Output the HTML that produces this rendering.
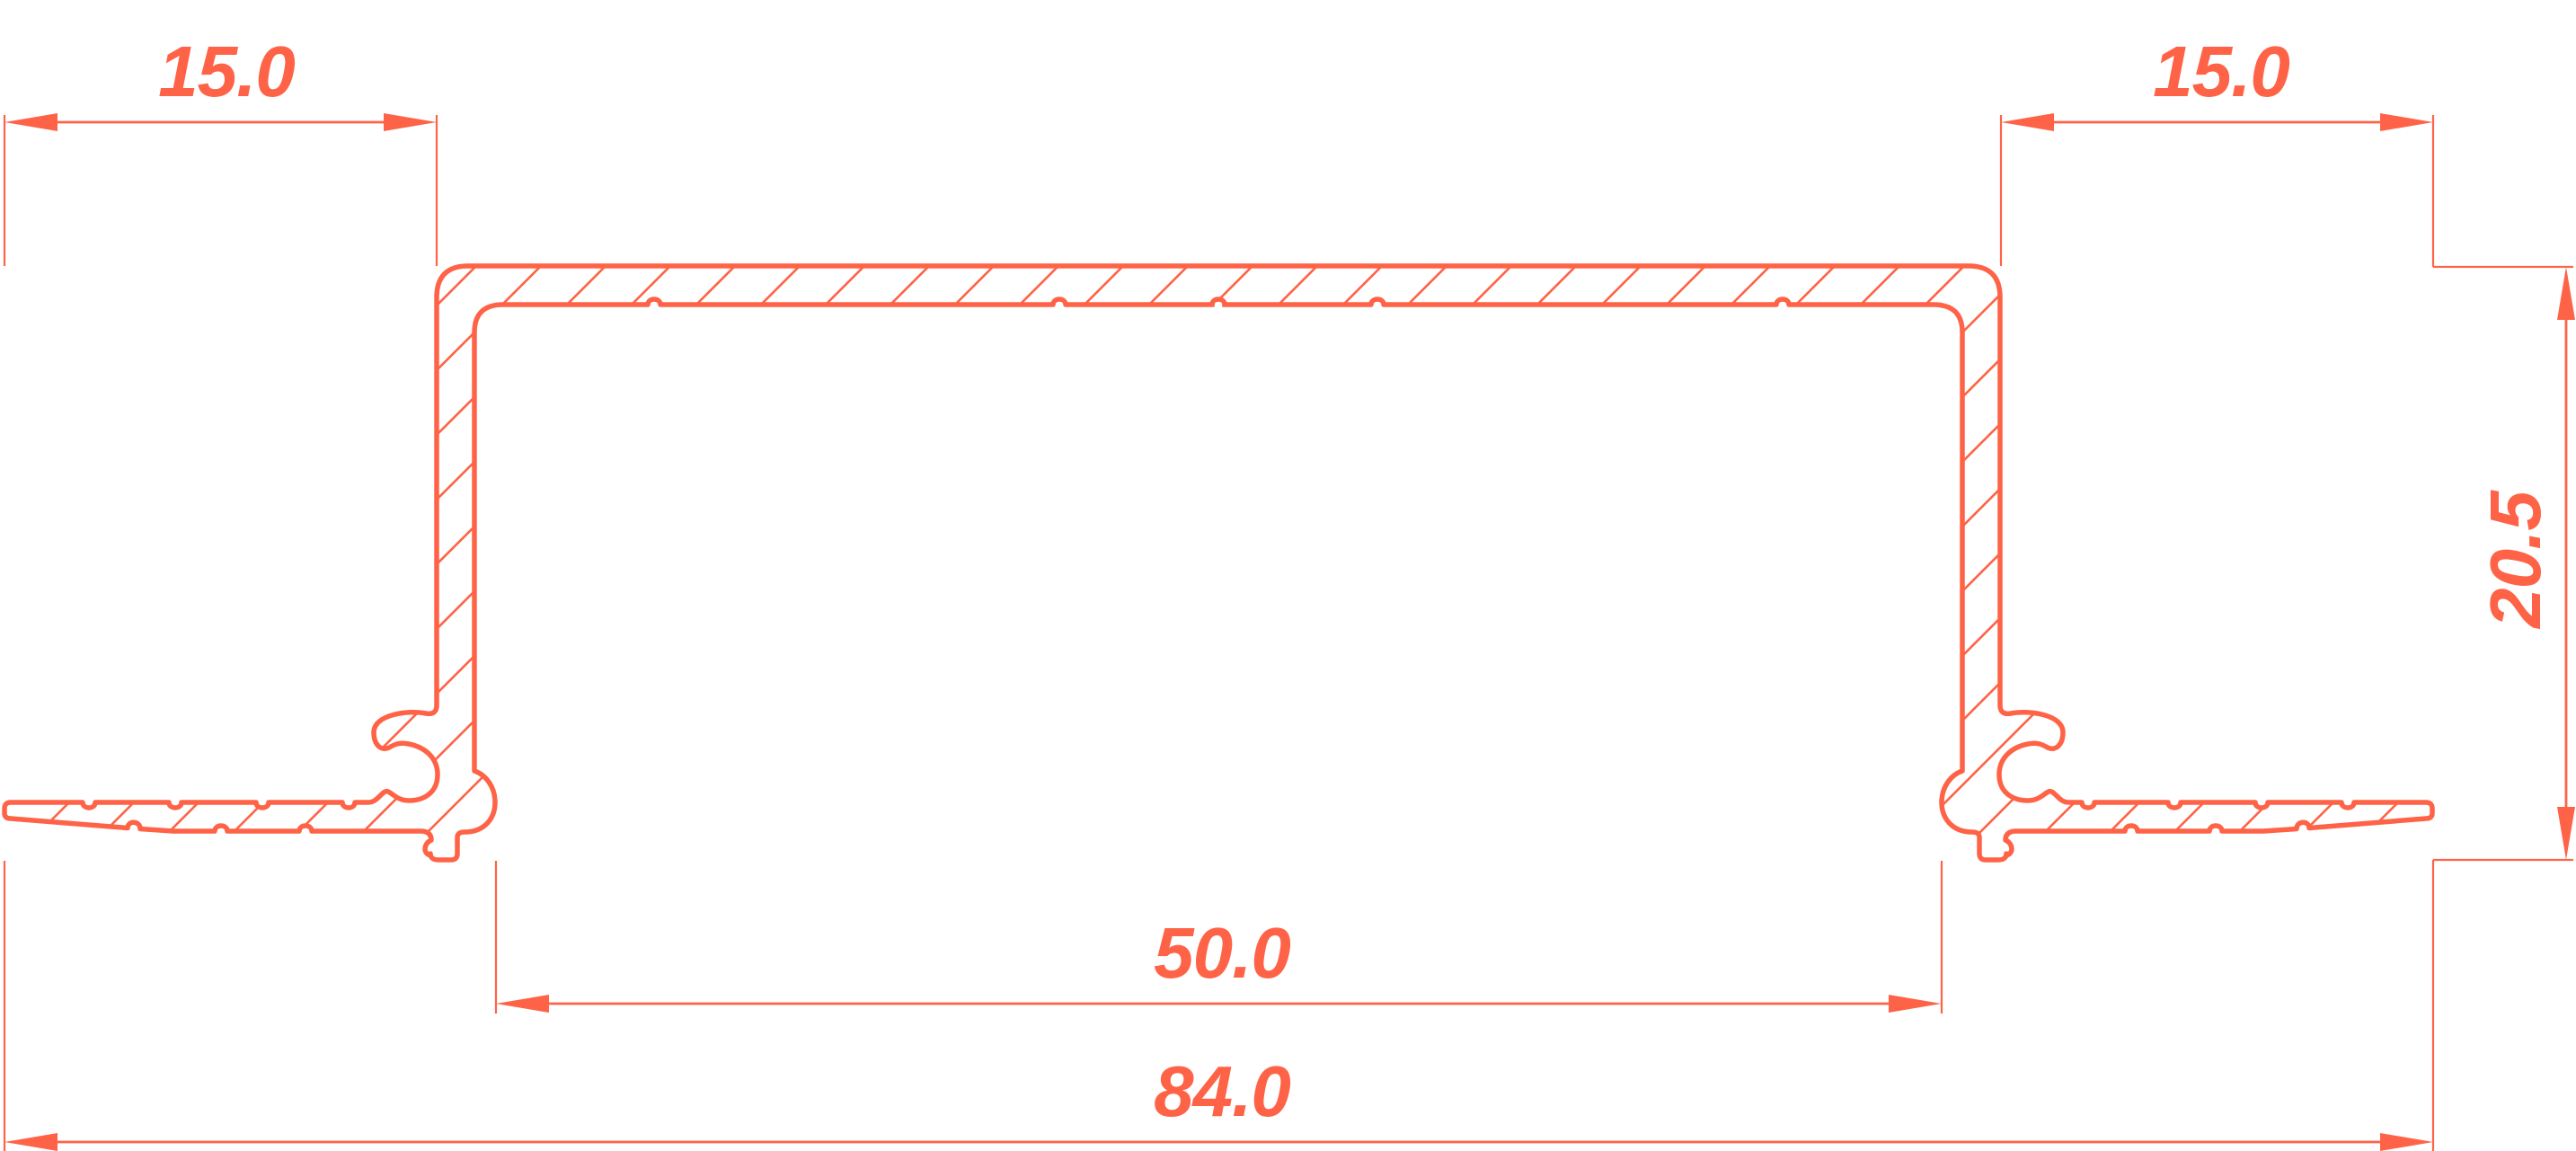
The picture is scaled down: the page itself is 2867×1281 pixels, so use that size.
<!DOCTYPE html>
<html><head><meta charset="utf-8"><style>
html,body{margin:0;padding:0;background:#fff;}
svg{display:block;}
text{font-family:"Liberation Sans",sans-serif;font-style:italic;font-weight:600;fill:#ff6347;font-size:80px;letter-spacing:-1px;}
</style></head><body>
<svg width="2867" height="1281" viewBox="0 0 2867 1281" xmlns="http://www.w3.org/2000/svg">
<defs>
<pattern id="h" patternUnits="userSpaceOnUse" x="34" y="0" width="72" height="72">
<path d="M0,72 L72,0 M-2,2 L2,-2 M70,74 L74,70" stroke="#ff6347" stroke-width="2.6" fill="none"/>
</pattern>
<path id="L" d="M1356,296 L521,296 Q486,296 486,331 L486,785 Q486,796 474,794 C455,790 416,795 416,815 C416,830 425,836 433,832 C440,828 445,826 455,828 C475,832 487,845 487,862 C487,882 472,891 455,891 C443,891 438,884 432,881 C426,878 421,893 410,893 L395,893 C395,901 381,901 381,893 L299,893 C299,901 285,901 285,893 L202,893 C202,901 188,901 188,893 L106,893 C106,901 92,901 92,893 L12,893 Q5,893 5,900 L5,905 Q5,911 12,911 L142,921.5 C142,913 156,913 156,922.5 L193,925 L239,925 C239,917 253,917 253,925 L333,925 C333,917 347,917 347,925 L470,925 Q480,926 480,935 C472,938 470,950 479,952 L479,950 Q479,957 488,957 L502,957 Q509,957 509,950 L509,932 Q509,926 517,926 C540,926 551,910 551,893 C551,875 540,862 528,858 L528,370 Q528,339 560,339 L721,339 C721,331 735,331 735,339 L1172,339 C1172,331 1186,331 1186,339 L1356,339"/>
<clipPath id="c">
<use href="#L"/>
<use href="#L" transform="matrix(-1 0 0 1 2712 0)"/>
</clipPath>
</defs>
<rect x="0" y="0" width="2867" height="1281" fill="url(#h)" clip-path="url(#c)"/>
<g fill="none" stroke="#ff6347" stroke-width="5.5" stroke-linejoin="round">
<use href="#L"/>
<use href="#L" transform="matrix(-1 0 0 1 2712 0)"/>
</g>
<rect x="1346" y="336" width="20" height="6" fill="#fff"/>
<path d="M1346,339 L1349,339 C1349,331 1363,331 1363,339 L1366,339" fill="none" stroke="#ff6347" stroke-width="5.5"/>

<g stroke="#ff6347" stroke-width="2.2" fill="none">
<line x1="5" y1="128" x2="5" y2="296"/>
<line x1="486" y1="128" x2="486" y2="296"/>
<line x1="2227" y1="128" x2="2227" y2="296"/>
<line x1="2708" y1="128" x2="2708" y2="297"/>
<line x1="2708" y1="297" x2="2864" y2="297"/>
<line x1="2708" y1="957" x2="2864" y2="957"/>
<line x1="552" y1="958" x2="552" y2="1128"/>
<line x1="2161" y1="958" x2="2161" y2="1128"/>
<line x1="5" y1="958" x2="5" y2="1281"/>
<line x1="2708" y1="957" x2="2708" y2="1281"/>
</g>
<g stroke="#ff6347" stroke-width="2.8">
<line x1="40" y1="136" x2="450" y2="136"/>
<line x1="2262" y1="136" x2="2672" y2="136"/>
<line x1="587" y1="1117" x2="2126" y2="1117"/>
<line x1="40" y1="1271" x2="2672" y2="1271"/>
<line x1="2856" y1="330" x2="2856" y2="924"/>
</g>
<g fill="#ff6347">
<path d="M5,136 L64,126 L64,146Z"/><path d="M486,136 L427,126 L427,146Z"/>
<path d="M2227,136 L2286,126 L2286,146Z"/><path d="M2708,136 L2649,126 L2649,146Z"/>
<path d="M552,1117 L611,1107 L611,1127Z"/><path d="M2161,1117 L2102,1107 L2102,1127Z"/>
<path d="M5,1271 L64,1261 L64,1281Z"/><path d="M2708,1271 L2649,1261 L2649,1281Z"/>
<path d="M2856,297 L2846,356 L2866,356Z"/><path d="M2856,957 L2846,898 L2866,898Z"/>
</g>
<text x="252" y="107" text-anchor="middle">15.0</text>
<text x="2472" y="107" text-anchor="middle">15.0</text>
<text x="1360" y="1088" text-anchor="middle">50.0</text>
<text x="1360" y="1242" text-anchor="middle">84.0</text>
<text x="0" y="0" text-anchor="middle" transform="translate(2827,623) rotate(-90)">20.5</text>
</svg>
</body></html>
